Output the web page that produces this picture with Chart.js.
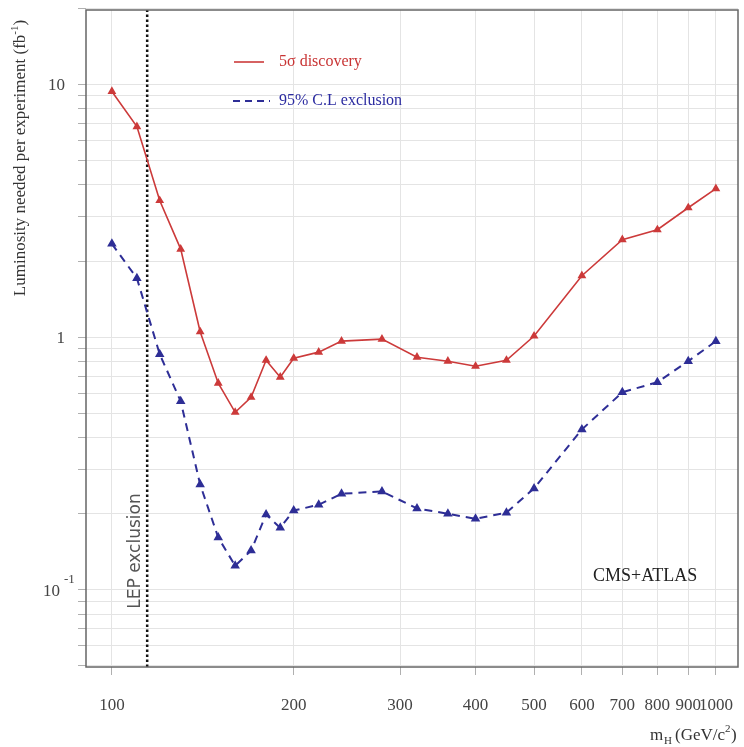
<!DOCTYPE html>
<html>
<head>
<meta charset="utf-8">
<script src="https://cdn.jsdelivr.net/npm/chart.js@4/dist/chart.umd.min.js"></script>
<style>
  html, body { margin: 0; padding: 0; background: #ffffff; }
  #wrap { width: 744px; height: 747px; position: relative; }
</style>
</head>
<body>
<div id="wrap"><canvas id="lumiChart"></canvas></div>
<script>
// Higgs mass points (GeV/c^2)
const massValues = [100, 110, 120, 130, 140, 150, 160, 170, 180, 190, 200, 220, 240, 280, 320, 360, 400, 450, 500, 600, 700, 800, 900, 1000];
// luminosity needed for 5 sigma discovery (fb^-1)
const discovery5Sigma = [9.38, 6.81, 3.47, 2.23, 1.05, 0.657, 0.504, 0.578, 0.81, 0.694, 0.825, 0.872, 0.964, 0.982, 0.833, 0.803, 0.767, 0.81, 1.01, 1.75, 2.43, 2.66, 3.25, 3.87];
// luminosity needed for 95% C.L. exclusion (fb^-1)
const exclusion95 = [2.34, 1.71, 0.856, 0.557, 0.261, 0.161, 0.1245, 0.143, 0.1985, 0.176, 0.206, 0.217, 0.240, 0.245, 0.210, 0.200, 0.191, 0.202, 0.252, 0.431, 0.605, 0.663, 0.803, 0.964];
const lepLimit = [114.4];

const xTickValues = [100, 200, 300, 400, 500, 600, 700, 800, 900, 1000];
const yGridValues = [0.05, 0.06, 0.07, 0.08, 0.09, 0.1, 0.2, 0.3, 0.4, 0.5, 0.6, 0.7, 0.8, 0.9,
                     1, 2, 3, 4, 5, 6, 7, 8, 9, 10, 20];
const yLabelValues = [10, 1, 0.1];

const xRange = [90.6, 1088];
const yRange = [0.0495, 19.7];

const colors = {
  red: '#cc3a3a',
  redText: '#c83434',
  blue: '#2e2e96',
  blueText: '#2b2ba0',
  grid: '#e4e4e4',
  frame: '#666666',
  text: '#444444'
};
const serif = "'Liberation Serif', 'DejaVu Serif', serif";

const toPoints = vals => massValues.map((m, i) => ({ x: m, y: vals[i] }));

const overlayPlugin = {
  id: 'overlay',
  afterDraw(chart) {
    const ctx = chart.ctx;
    const area = chart.chartArea;
    const yScale = chart.scales.y;
    ctx.save();

    // frame
    ctx.strokeStyle = colors.frame;
    ctx.lineWidth = 1.5;
    ctx.strokeRect(area.left, area.top, area.right - area.left, area.bottom - area.top);

    // y tick labels
    ctx.fillStyle = colors.text;
    ctx.font = '17px ' + serif;
    ctx.textBaseline = 'middle';
    ctx.textAlign = 'right';
    yLabelValues.forEach(v => {
      const py = yScale.getPixelForValue(v);
      if (v === 0.1) {
        ctx.fillText('10', 60, py + 2);
        ctx.font = '13px ' + serif;
        ctx.textAlign = 'left';
        ctx.fillText('-1', 64, py - 10);
        ctx.font = '17px ' + serif;
        ctx.textAlign = 'right';
      } else {
        ctx.fillText(String(v), 65, py + 1);
      }
    });

    // y axis title
    ctx.save();
    ctx.translate(21, 158);
    ctx.rotate(-Math.PI / 2);
    ctx.font = '17px ' + serif;
    ctx.fillStyle = '#333333';
    const t1 = 'Luminosity needed per experiment (fb';
    const w1 = ctx.measureText(t1).width;
    ctx.font = '11px ' + serif;
    const w2 = ctx.measureText('-1').width;
    ctx.font = '17px ' + serif;
    const w3 = ctx.measureText(')').width;
    const sx = -(w1 + w2 + w3) / 2;
    ctx.textAlign = 'left';
    ctx.fillText(t1, sx, 0);
    ctx.font = '11px ' + serif;
    ctx.fillText('-1', sx + w1, -6);
    ctx.font = '17px ' + serif;
    ctx.fillText(')', sx + w1 + w2, 0);
    ctx.restore();

    // x axis title
    ctx.fillStyle = '#333333';
    ctx.textAlign = 'left';
    ctx.font = '17px ' + serif;
    ctx.fillText('m', 650, 736);
    ctx.font = '11px ' + serif;
    ctx.fillText('H', 664, 741);
    ctx.font = '17px ' + serif;
    ctx.fillText('(GeV/c', 675, 736);
    const gw = ctx.measureText('(GeV/c').width;
    ctx.font = '11px ' + serif;
    ctx.fillText('2', 675 + gw, 729);
    ctx.font = '17px ' + serif;
    ctx.fillText(')', 675 + gw + 6, 736);

    // legend
    ctx.lineWidth = 1.6;
    ctx.strokeStyle = colors.red;
    ctx.beginPath();
    ctx.moveTo(234, 62);
    ctx.lineTo(264, 62);
    ctx.stroke();
    ctx.strokeStyle = colors.blue;
    ctx.lineWidth = 2;
    ctx.setLineDash([7, 5]);
    ctx.beginPath();
    ctx.moveTo(233, 101);
    ctx.lineTo(270, 101);
    ctx.stroke();
    ctx.setLineDash([]);
    ctx.font = '16px ' + serif;
    ctx.textBaseline = 'middle';
    ctx.fillStyle = colors.redText;
    ctx.fillText('5\u03c3 discovery', 279, 62);
    ctx.fillStyle = colors.blueText;
    ctx.fillText('95% C.L exclusion', 279, 101);

    // CMS+ATLAS
    ctx.fillStyle = '#222222';
    ctx.font = '18px ' + serif;
    ctx.fillText('CMS+ATLAS', 593, 576);

    // LEP exclusion label
    ctx.save();
    ctx.translate(136, 551);
    ctx.rotate(-Math.PI / 2);
    ctx.textAlign = 'center';
    ctx.font = "17px 'DejaVu Sans', sans-serif";
    ctx.fillStyle = '#555555';
    ctx.fillText('LEP exclusion', 0, 0);
    ctx.restore();

    ctx.restore();
  }
};

new Chart(document.getElementById('lumiChart'), {
  type: 'line',
  data: {
    datasets: [
      {
        label: '5\u03c3 discovery',
        data: toPoints(discovery5Sigma),
        borderColor: colors.red,
        backgroundColor: colors.red,
        borderWidth: 1.6,
        pointStyle: 'triangle',
        pointRadius: 3.5,
        tension: 0
      },
      {
        label: '95% C.L exclusion',
        data: toPoints(exclusion95),
        borderColor: colors.blue,
        backgroundColor: colors.blue,
        borderWidth: 2,
        borderDash: [8, 6],
        pointStyle: 'triangle',
        pointRadius: 3.5,
        tension: 0
      },
      {
        label: 'LEP exclusion',
        data: [{ x: lepLimit[0], y: yRange[0] }, { x: lepLimit[0], y: yRange[1] }],
        borderColor: '#111111',
        borderWidth: 2.5,
        borderDash: [2.5, 2.5],
        pointRadius: 0
      }
    ]
  },
  options: {
    responsive: true,
    maintainAspectRatio: false,
    animation: false,
    layout: { padding: { top: 10, right: 0, bottom: 0, left: 0 } },
    plugins: {
      legend: { display: false },
      tooltip: { enabled: false }
    },
    scales: {
      x: {
        type: 'logarithmic',
        min: xRange[0],
        max: xRange[1],
        afterBuildTicks: s => { s.ticks = xTickValues.map(v => ({ value: v })); },
        afterFit: s => { s.height = 80; s.paddingLeft = 0; s.paddingRight = 0; },
        ticks: {
          autoSkip: false,
          maxRotation: 0,
          padding: 20,
          color: colors.text,
          font: { family: serif, size: 17 },
          callback: v => String(v)
        },
        grid: { color: colors.grid, tickLength: 8, tickColor: '#b0b0b0' },
        border: { display: false }
      },
      y: {
        type: 'logarithmic',
        min: yRange[0],
        max: yRange[1],
        afterBuildTicks: s => { s.ticks = yGridValues.map(v => ({ value: v })); },
        afterFit: s => { s.width = 86; s.paddingTop = 0; s.paddingBottom = 0; },
        ticks: { display: false },
        grid: { color: colors.grid, tickLength: 8, tickColor: '#b0b0b0' },
        border: { display: false }
      }
    }
  },
  plugins: [overlayPlugin]
});
</script>
</body>
</html>
